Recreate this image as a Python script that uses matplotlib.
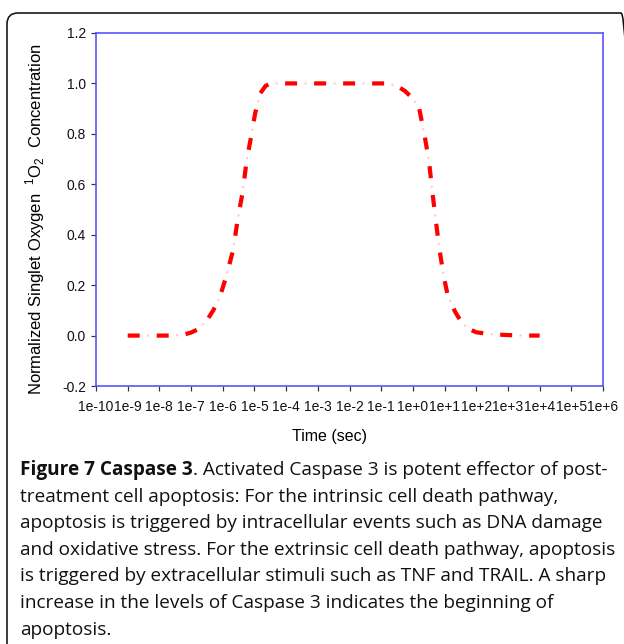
import matplotlib
matplotlib.use("Agg")
import matplotlib.pyplot as plt
import numpy as np
from matplotlib.patches import FancyBboxPatch
from matplotlib.transforms import IdentityTransform

# ---- data ----
log_time = [-9.0, -8.0, -7.5, -7.2, -7.0, -6.78, -6.5, -6.3, -6.1, -5.9, -5.67, -5.53,
            -5.37, -5.25, -5.09, -4.98, -4.82, -4.65, -4.5, -4.0, -3.0, -2.0, -1.0,
            -0.8, -0.5, -0.25, 0.0, 0.2, 0.36, 0.51, 0.61, 0.72, 0.83, 0.98, 1.1,
            1.33, 1.5, 1.7, 2.0, 2.5, 3.0, 3.5, 4.0]
concentration = [0.0, 0.0, 0.0, 0.005, 0.012, 0.025, 0.06, 0.10, 0.15, 0.23, 0.34, 0.46,
                 0.57, 0.69, 0.80, 0.88, 0.96, 0.99, 1.0, 1.0, 1.0, 1.0, 1.0,
                 1.0, 0.99, 0.97, 0.94, 0.90, 0.80, 0.69, 0.575, 0.46, 0.35, 0.23, 0.16,
                 0.095, 0.06, 0.03, 0.013, 0.005, 0.002, 0.0, 0.0]
tick_exponents = list(range(-10, 7))
tick_labels = ["1e-10", "1e-9", "1e-8", "1e-7", "1e-6", "1e-5", "1e-4", "1e-3", "1e-2",
               "1e-1", "1e+0", "1e+1", "1e+2", "1e+3", "1e+4", "1e+5", "1e+6"]
y_ticks = [-0.2, 0.0, 0.2, 0.4, 0.6, 0.8, 1.0, 1.2]

caption_bold = "Figure 7 Caspase 3"
caption_lines = [
    ". Activated Caspase 3 is potent effector of post-",
    "treatment cell apoptosis: For the intrinsic cell death pathway,",
    "apoptosis is triggered by intracellular events such as DNA damage",
    "and oxidative stress. For the extrinsic cell death pathway, apoptosis",
    "is triggered by extracellular stimuli such as TNF and TRAIL. A sharp",
    "increase in the levels of Caspase 3 indicates the beginning of",
    "apoptosis.",
]

W, H = 624, 644
DPI = 100
plt.rcParams["lines.scale_dashes"] = False
plt.rcParams["mathtext.fontset"] = "custom"
plt.rcParams["mathtext.rm"] = "Liberation Sans"
plt.rcParams["font.family"] = ["Liberation Sans", "DejaVu Sans"]

fig = plt.figure(figsize=(W / DPI, H / DPI), dpi=DPI)
fig.patch.set_facecolor("white")

def px(v):
    return v * 72.0 / DPI

ax = fig.add_axes([96 / W, 1 - 386 / H, (603 - 96) / W, (386 - 33) / H])
t = 10.0 ** np.array(log_time)
y = np.array(concentration)

# red long dashes with faint pink dot in the gaps
D, G, d = 12, 17, 2
P = D + G
ax.plot(t, y, color="red", lw=px(4.2), solid_capstyle="butt",
        dash_capstyle="butt", linestyle=(0, (px(D), px(G))))
start = D + (G - d) / 2
ax.plot(t, y, color="#ffc4c4", lw=px(2.0), dash_capstyle="butt",
        linestyle=(px(P - start), (px(d), px(P - d))))

ax.set_xscale("log")
ax.set_xlim(1e-10, 1e6)
ax.set_ylim(-0.2, 1.2)
ax.set_xticks([10.0 ** e for e in tick_exponents])
ax.set_xticklabels(tick_labels)
ax.xaxis.set_minor_locator(matplotlib.ticker.NullLocator())
ax.set_yticks(y_ticks)
ax.set_yticklabels([f"{v:.1f}" for v in y_ticks])
ax.tick_params(axis="both", direction="out", length=px(5), width=px(1.2),
               color="#333333", labelsize=10, labelcolor="#111111")
ax.tick_params(axis="x", pad=px(9))
ax.tick_params(axis="y", pad=px(5))
for s in ax.spines.values():
    s.set_color("#5050ff")
    s.set_linewidth(px(1.6))

fig.text(329 / W, 1 - 437 / H, "Time (sec)", ha="center", va="center", fontsize=11.5)
fig.text(35 / W, 1 - 219 / H,
         r"Normalized Singlet Oxygen  $^{\mathregular{1}}$O$_{\mathregular{2}}$  Concentration",
         ha="center", va="center", rotation=90, fontsize=12)

# border
box = FancyBboxPatch((7, -40), 625, H - 13 + 40,
                     boxstyle="round,pad=0,rounding_size=11",
                     transform=IdentityTransform(), fill=False,
                     edgecolor="#111111", linewidth=px(1.6))
fig.add_artist(box)

# caption
cap_font = ["Open Sans", "DejaVu Sans"]
x0 = 20 / W
line_y = [470 + 26.6 * i for i in range(7)]
fig.canvas.draw()
r = fig.canvas.get_renderer()
fs = 13
tb = fig.text(x0, 1 - line_y[0] / H, caption_bold, fontsize=fs, fontweight="bold",
              family=cap_font, va="center", ha="left", color="#111111")
bb = tb.get_window_extent(renderer=r)
t1 = fig.text(bb.x1 / W, 1 - line_y[0] / H, caption_lines[0], fontsize=fs,
              family=cap_font, va="center", ha="left", color="#111111")
bb1 = t1.get_window_extent(renderer=r)
scale = (606 - 20) / (bb1.x1 - bb.x0)
fs2 = fs * scale
tb.set_fontsize(fs2)
bb = tb.get_window_extent(renderer=r)
t1.set_fontsize(fs2)
t1.set_x(bb.x1 / W)
for i in range(1, 7):
    fig.text(x0, 1 - line_y[i] / H, caption_lines[i], fontsize=fs2,
             family=cap_font, va="center", ha="left", color="#111111")

fig.savefig("out.png", dpi=DPI, facecolor="white")
